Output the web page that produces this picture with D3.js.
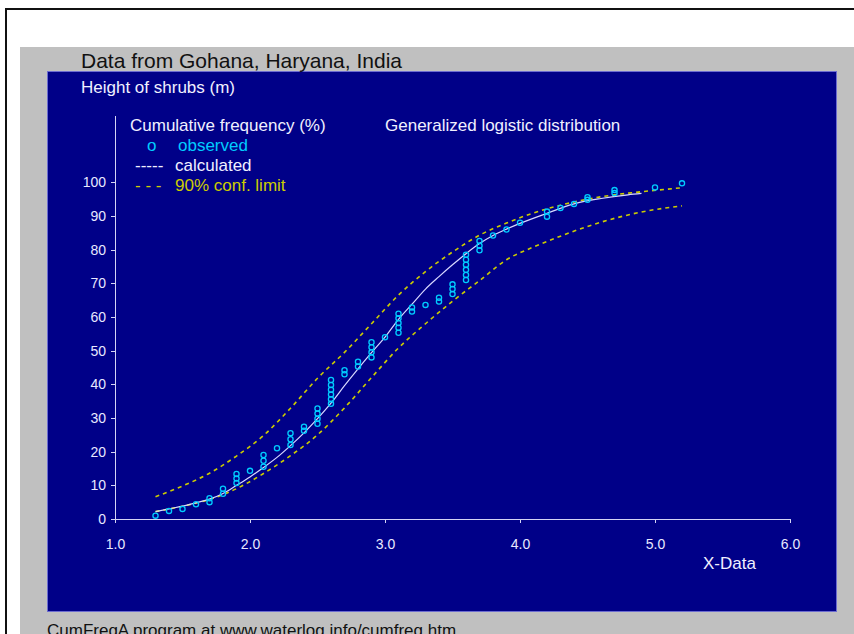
<!DOCTYPE html>
<meta charset="utf-8">
<head>
	<title>Cumulative frequency - Gohana</title>
	<style>
	body { margin: 0; background: #fff; }
	svg text { font-family: "Liberation Sans", Arial, sans-serif; }
	.axis path,
	.axis line {
	  fill: none;
	  stroke: #d4d4f4;
	  shape-rendering: crispEdges;
	}
	.axis text { fill: #e8e8ff; font-size: 14px; }
	</style>
</head>
<body>
<script src="https://cdn.jsdelivr.net/npm/d3@7"></script>
<script>

	// observed points (height m, cumulative %)
	var obsX = [1.3, 1.4, 1.5, 1.6, 1.7, 1.7, 1.8, 1.8, 1.9, 1.9, 1.9, 2.0,
		2.1, 2.1, 2.1, 2.2, 2.3, 2.3, 2.3, 2.4, 2.4, 2.5, 2.5, 2.5, 2.5,
		2.6, 2.6, 2.6, 2.6, 2.6, 2.6, 2.7, 2.7, 2.8, 2.8, 2.9, 2.9, 2.9, 2.9,
		3.0, 3.1, 3.1, 3.1, 3.1, 3.1, 3.2, 3.2, 3.3, 3.4, 3.4, 3.5, 3.5, 3.5,
		3.6, 3.6, 3.6, 3.6, 3.6, 3.6, 3.7, 3.7, 3.7, 3.8, 3.9, 4.0, 4.2, 4.2,
		4.3, 4.4, 4.5, 4.5, 4.7, 4.7, 5.0, 5.2];
	var obsY = [1.0, 2.4, 3.0, 4.4, 5.0, 6.2, 7.5, 9.0, 10.7, 12.0, 13.4, 14.3,
		15.5, 17.3, 19.0, 21.0, 22.0, 23.7, 25.5, 26.2, 27.4, 28.3, 29.8, 31.3, 32.8,
		34.2, 35.6, 37.0, 38.4, 39.8, 41.3, 43.0, 44.2, 45.3, 46.7, 48.0, 49.5, 51.0, 52.5,
		54.0, 55.3, 56.8, 58.2, 59.6, 61.0, 61.6, 62.8, 63.6, 64.6, 65.7, 66.8, 68.3, 69.7,
		71.0, 72.5, 74.0, 75.5, 77.0, 78.5, 79.8, 81.2, 82.6, 84.2, 86.0, 88.0, 89.8, 91.3,
		92.4, 93.6, 94.8, 95.6, 96.8, 97.7, 98.5, 99.7];

	// calculated generalized logistic curve
	var calcX = [1.3, 1.4, 1.5, 1.6, 1.7, 1.8, 1.9, 2.0, 2.1, 2.2, 2.3, 2.4, 2.5, 2.6,
		2.7, 2.8, 2.9, 3.0, 3.1, 3.2, 3.3, 3.4, 3.5, 3.6, 3.7, 3.8, 3.9, 4.0,
		4.2, 4.4, 4.6, 4.8, 4.9];
	var calcY = [2.2, 3.0, 3.8, 4.8, 5.9, 7.6, 10.0, 12.5, 15.3, 18.3, 21.8, 25.6, 29.8, 34.4,
		39.6, 44.6, 49.4, 54.0, 59.3, 63.8, 68.3, 72.0, 75.5, 78.8, 81.8, 84.2, 86.1, 87.8,
		90.8, 93.6, 95.2, 96.3, 96.7];

	// 90% confidence limits
	var confX = [1.3, 1.5, 1.7, 1.9, 2.1, 2.3, 2.5, 2.7, 2.9, 3.1, 3.3, 3.5, 3.7, 3.9,
		4.1, 4.3, 4.5, 4.7, 4.9, 5.2];
	var upperY = [6.6, 9.8, 13.6, 18.7, 24.8, 32.9, 41.8, 49.5, 58.0, 66.5, 73.5, 79.3, 84.3, 87.9,
		90.9, 93.2, 95.0, 96.3, 97.2, 98.4];
	var lowerY = [2.2, 3.8, 5.8, 9.0, 13.5, 18.8, 25.0, 33.0, 42.0, 50.8, 58.0, 64.7, 70.8, 77.0,
		80.8, 84.0, 86.9, 89.3, 91.2, 93.0];

	var xTicks = [1, 2, 3, 4, 5, 6];
	var yTicks = [0, 10, 20, 30, 40, 50, 60, 70, 80, 90, 100];

	var width = 854, height = 634;

	var svg = d3.select("body").append("svg")
		.attr("width", width)
		.attr("height", height);

	// page, grey frame and blue plot panel
	svg.append("rect").attr("width", width).attr("height", height).attr("fill", "#fff");
	svg.append("path")
		.attr("d", "M6,634V9H854")
		.attr("fill", "none")
		.attr("stroke", "#111")
		.attr("stroke-width", 2);
	svg.append("rect")
		.attr("x", 20).attr("y", 47)
		.attr("width", 834).attr("height", 587)
		.attr("fill", "#c0c0c0");
	svg.append("rect")
		.attr("x", 47.5).attr("y", 71.5)
		.attr("width", 789).attr("height", 540)
		.attr("fill", "#000088")
		.attr("stroke", "#6c6cd0")
		.attr("stroke-width", 1);

	var x = d3.scaleLinear().domain([1, 6]).range([115, 790]);
	var y = d3.scaleLinear().domain([0, 120]).range([519, 115]);

	svg.append("g")
		.attr("class", "x axis")
		.attr("transform", "translate(0," + y(0) + ")")
		.call(d3.axisBottom(x)
			.tickValues(xTicks)
			.tickFormat(d3.format(".1f"))
			.tickSizeInner(4)
			.tickSizeOuter(0)
			.tickPadding(16));

	svg.append("g")
		.attr("class", "y axis")
		.attr("transform", "translate(" + x(1) + ",0)")
		.call(d3.axisLeft(y)
			.tickValues(yTicks)
			.tickSizeInner(4)
			.tickSizeOuter(0)
			.tickPadding(5));

	var line = d3.line().curve(d3.curveMonotoneX);

	// confidence limits
	[upperY, lowerY].forEach(function(vals) {
		svg.append("path")
			.attr("d", line(confX.map(function(d, i) { return [x(d), y(vals[i])]; })))
			.attr("fill", "none")
			.attr("stroke", "#cccc00")
			.attr("stroke-width", 1.6)
			.attr("stroke-dasharray", "4,4");
	});

	// calculated curve
	svg.append("path")
		.attr("d", line(calcX.map(function(d, i) { return [x(d), y(calcY[i])]; })))
		.attr("fill", "none")
		.attr("stroke", "#d8d8ff")
		.attr("stroke-width", 1.2);

	// observed
	svg.selectAll("circle.obs")
		.data(obsX)
		.enter().append("circle")
		.attr("class", "obs")
		.attr("cx", function(d) { return x(d); })
		.attr("cy", function(d, i) { return y(obsY[i]); })
		.attr("r", 2.6)
		.attr("fill", "none")
		.attr("stroke", "#00ccff")
		.attr("stroke-width", 1.3);

	// texts
	function label(tx, ty, str, color, size) {
		svg.append("text")
			.attr("x", tx).attr("y", ty)
			.attr("fill", color)
			.style("font-size", size + "px")
			.text(str);
	}

	label(81, 68, "Data from Gohana, Haryana, India", "#111", 21);
	label(81, 93, "Height of shrubs (m)", "#f0f0ff", 17);
	label(130, 131, "Cumulative frequency (%)", "#f0f0ff", 17);
	label(385, 131, "Generalized logistic distribution", "#f0f0ff", 17);
	label(147, 151, "o", "#00ccff", 17);
	label(178, 151, "observed", "#00ccff", 17);
	label(135, 171, "-----", "#f0f0ff", 17);
	label(175, 171, "calculated", "#f0f0ff", 17);
	label(135, 191, "- - -", "#cccc00", 17);
	label(175, 191, "90% conf. limit", "#cccc00", 17);
	label(703, 569, "X-Data", "#f0f0ff", 17);
	label(47, 636, "CumFreqA program at www.waterlog.info/cumfreq.htm", "#111", 17);

</script>
</body>
